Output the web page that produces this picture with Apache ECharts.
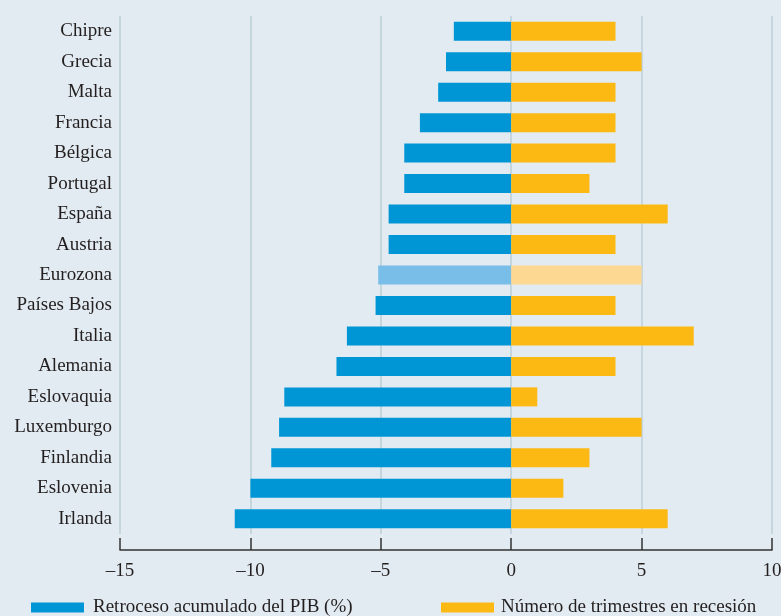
<!DOCTYPE html>
<html>
<head>
<meta charset="utf-8">
<title>Retroceso del PIB y trimestres en recesión</title>
<script src="https://cdn.jsdelivr.net/npm/echarts@6/dist/echarts.min.js"></script>
<style>
  html, body { margin: 0; padding: 0; background: #e2ebf1; overflow: hidden; }
  #main { width: 781px; height: 616px; }
</style>
</head>
<body>
<div id="main"></div>
<script>
// ---- datos ----
var paises = ['Chipre', 'Grecia', 'Malta', 'Francia', 'Bélgica', 'Portugal', 'España', 'Austria',
  'Eurozona', 'Países Bajos', 'Italia', 'Alemania', 'Eslovaquia', 'Luxemburgo', 'Finlandia',
  'Eslovenia', 'Irlanda'];
// retroceso acumulado del PIB (%)
var retroceso = [-2.2, -2.5, -2.8, -3.5, -4.1, -4.1, -4.7, -4.7,
  -5.1, -5.2, -6.3, -6.7, -8.7, -8.9, -9.2, -10.0, -10.6];
// número de trimestres en recesión
var trimestres = [4, 5, 4, 4, 4, 3, 6, 4, 5, 4, 7, 4, 1, 5, 3, 2, 6];
var ticksX = [-15, -10, -5, 0, 5, 10];
var nombreSeries = ['Retroceso acumulado del PIB (%)', 'Número de trimestres en recesión'];
var destacado = 'Eurozona';

var azul = '#0096d6', azulClaro = '#78bee8';
var naranja = '#fdb913', naranjaClaro = '#fdd892';
var fuente = 'Liberation Serif';

function conDestacado(valores, colorClaro) {
  return valores.map(function (v, i) {
    if (paises[i] == destacado) {
      return { value: v, itemStyle: { color: colorClaro } };
    }
    return v;
  });
}

var myChart = echarts.init(document.getElementById('main'));

var option = {
  backgroundColor: '#e2ebf1',
  animation: false,
  textStyle: { fontFamily: fuente },
  grid: { left: 120, right: 9, top: 16, bottom: 82, containLabel: false, outerBoundsMode: 'none' },
  legend: [{
    data: [nombreSeries[0]],
    left: 31, top: 598, padding: 0,
    icon: 'rect', itemWidth: 53, itemHeight: 10,
    textStyle: { fontFamily: fuente, fontSize: 19, color: '#231f20', padding: [0, 0, 0, 4] }
  }, {
    data: [nombreSeries[1]],
    left: 441, top: 598, padding: 0,
    icon: 'rect', itemWidth: 53, itemHeight: 10,
    textStyle: { fontFamily: fuente, fontSize: 19, color: '#231f20', padding: [0, 0, 0, 2] }
  }],
  xAxis: {
    type: 'value',
    min: ticksX[0],
    max: ticksX[ticksX.length - 1],
    interval: 5,
    offset: 16,
    axisLine: { show: true, lineStyle: { color: '#333', width: 1.5 } },
    axisTick: { show: true, inside: true, length: 12, lineStyle: { color: '#333', width: 1.5 } },
    axisLabel: {
      margin: 12,
      fontFamily: fuente, fontSize: 19, color: '#231f20',
      formatter: function (v) { return String(v).replace('-', '\u2013'); }
    },
    splitLine: { show: true, lineStyle: { color: '#bccfd9', width: 1.5 } }
  },
  yAxis: {
    type: 'category',
    inverse: true,
    data: paises,
    axisLine: { show: false },
    axisTick: { show: false },
    axisLabel: { margin: 8, fontFamily: fuente, fontSize: 19, color: '#231f20' }
  },
  series: [{
    name: nombreSeries[0],
    type: 'bar',
    barWidth: 19,
    barGap: '-100%',
    itemStyle: { color: azul },
    data: conDestacado(retroceso, azulClaro)
  }, {
    name: nombreSeries[1],
    type: 'bar',
    barWidth: 19,
    barGap: '-100%',
    itemStyle: { color: naranja },
    data: conDestacado(trimestres, naranjaClaro)
  }]
};
myChart.setOption(option);
</script>
</body>
</html>
